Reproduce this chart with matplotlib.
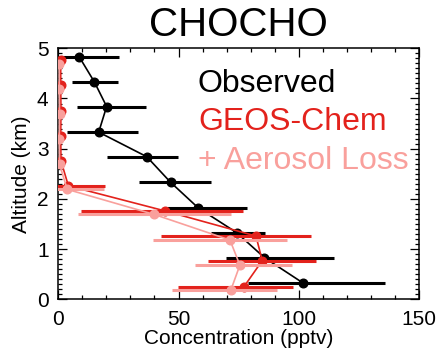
import numpy as np
import matplotlib
matplotlib.use("Agg")
import matplotlib.pyplot as plt
from matplotlib.ticker import MultipleLocator

plt.rcParams['font.family'] = ['Liberation Sans', 'DejaVu Sans']

# observed profile (km, pptv) with lower / upper bar ends
obs_alt = [0.33, 0.83, 1.33, 1.82, 2.33, 2.84, 3.33, 3.84, 4.33, 4.83]
obs_conc = [101.6, 85.7, 74.1, 58.2, 46.7, 36.8, 16.8, 20.1, 15.0, 8.7]
obs_lo = [78.9, 69.7, 63.5, 45.1, 33.7, 20.1, 3.7, 7.9, 5.7, -8.0]
obs_hi = [135.8, 114.6, 85.9, 78.3, 63.4, 49.9, 33.0, 36.5, 24.7, 25.4]

# GEOS-Chem
gc_alt = [0.25, 0.77, 1.26, 1.76, 2.26, 2.76, 3.26, 3.76, 4.26, 4.76]
gc_conc = [77.2, 84.8, 82.2, 44.4, 4.2, 1.1, 1.0, 1.1, 1.0, 1.0]
gc_lo = [49.9, 62.4, 42.7, 9.4, -11.0, 0.6, 0.5, 0.6, 0.5, 0.5]
gc_hi = [97.7, 107.0, 104.9, 76.7, 19.4, 1.6, 1.5, 1.6, 1.5, 1.5]

# GEOS-Chem + aerosol loss
al_alt = [0.19, 0.68, 1.18, 1.69, 2.19, 2.69, 3.19, 3.69, 4.19, 4.69]
al_conc = [71.8, 75.5, 71.4, 39.9, 3.7, 0.5, 0.4, 0.5, 0.4, 0.4]
al_lo = [47.2, 56.8, 39.3, 8.3, -11.0, 0.2, 0.1, 0.2, 0.1, 0.1]
al_hi = [90.8, 97.3, 95.0, 71.8, 19.1, 0.8, 0.7, 0.8, 0.7, 0.7]

red = '#E3221C'
pink = '#F9A09C'


def profile(ax, x, y, lo, hi, color, z):
    x = np.array(x)
    xerr = [x - np.array(lo), np.array(hi) - x]
    ax.errorbar(x, y, xerr=xerr, fmt='-o', color=color, ms=6.2, lw=1.2,
                elinewidth=2.2, capsize=0, zorder=z)


fig = plt.figure(figsize=(4.38, 3.51), dpi=100)
ax = fig.add_axes([0.1331, 0.1473, 0.8236, 0.7151])

profile(ax, obs_conc, obs_alt, obs_lo, obs_hi, 'black', 2)
profile(ax, gc_conc, gc_alt, gc_lo, gc_hi, red, 3)
profile(ax, al_conc, al_alt, al_lo, al_hi, pink, 4)

ax.set_xlim(0, 150)
ax.set_ylim(0, 5)
ax.xaxis.set_major_locator(MultipleLocator(50))
ax.xaxis.set_minor_locator(MultipleLocator(10))
ax.yaxis.set_major_locator(MultipleLocator(1))
ax.yaxis.set_minor_locator(MultipleLocator(0.1))
ax.tick_params(which='both', direction='in', top=True, right=True, labelsize=15)
ax.tick_params(which='major', length=6.5, width=0.9)
ax.tick_params(which='minor', length=3, width=0.9)
ax.tick_params(axis='x', pad=8)
ax.tick_params(axis='y', pad=7)
for s in ax.spines.values():
    s.set_linewidth(1.1)

ylabels = ax.get_yticklabels()
ylabels[0].set_va('bottom')
ylabels[-1].set_va('top')

ax.set_xlabel('Concentration (pptv)', fontsize=15, labelpad=0)
ax.set_ylabel('Altitude (km)', fontsize=15, labelpad=4)
ax.set_title('CHOCHO', fontsize=29, pad=9)

ax.text(0.387, 0.826, 'Observed', color='black', fontsize=23, transform=ax.transAxes, va='baseline')
ax.text(0.387, 0.673, 'GEOS-Chem', color=red, fontsize=23, transform=ax.transAxes, va='baseline')
ax.text(0.387, 0.52, '+ Aerosol Loss', color=pink, fontsize=23, transform=ax.transAxes, va='baseline')

fig.savefig('out.png', dpi=100)
